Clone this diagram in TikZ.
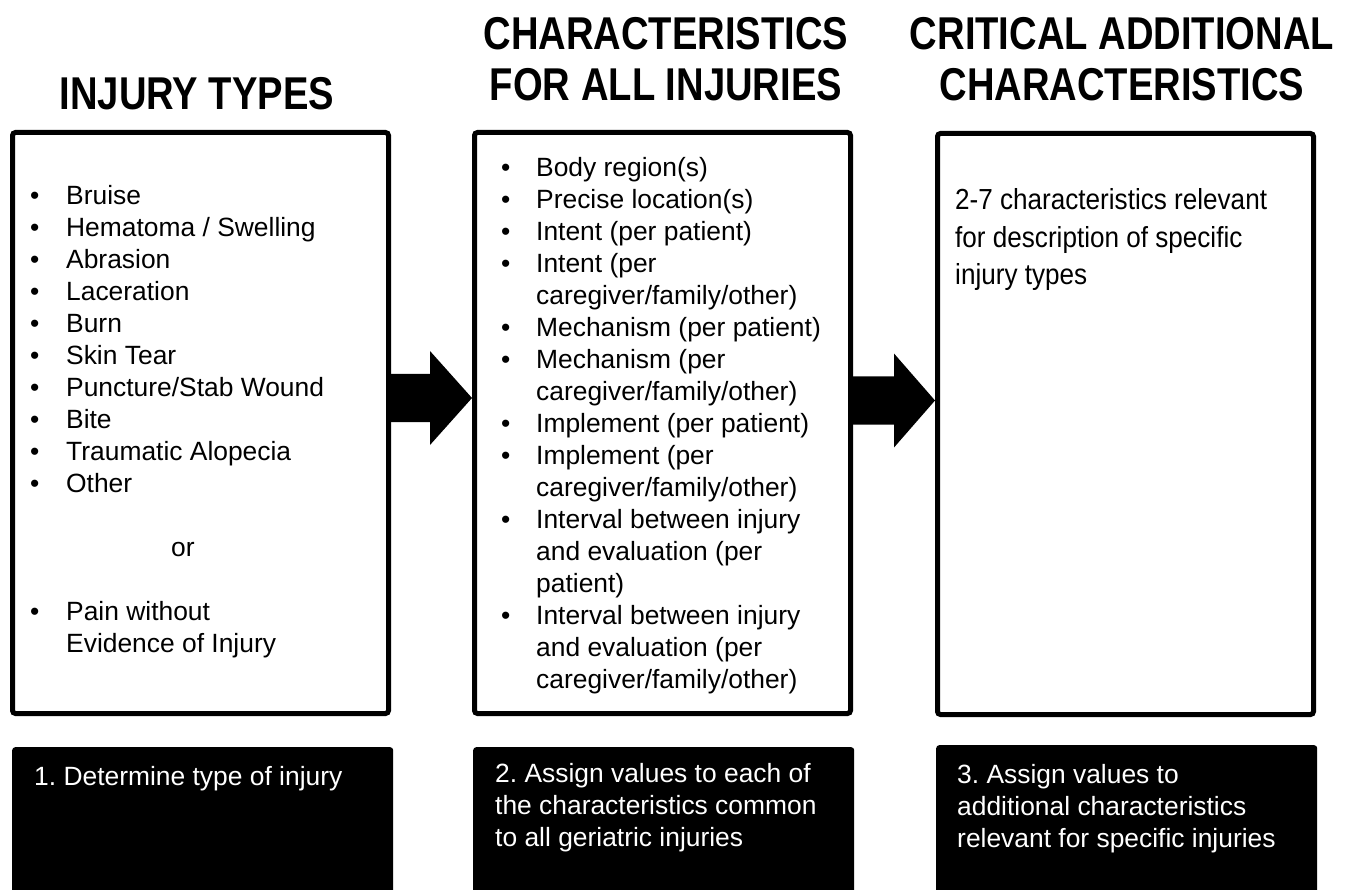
\documentclass[tikz,border=0pt]{standalone}
\usepackage{fontspec}
\setmainfont{Liberation Sans}
\newfontfamily\headfont{Liberation Sans}[FakeStretch=0.83]
\newfontfamily\narrowfont{Liberation Sans}[FakeStretch=0.9]
\usetikzlibrary{positioning, calc}
\frenchspacing

\tikzset{
  whitebox/.style={draw, line width=5pt, rounded corners=3pt, minimum width=376pt,
    minimum height=581pt, anchor=north west, inner sep=0pt},
  blackbox/.style={fill=black, rounded corners=3pt, minimum width=381pt,
    minimum height=160pt, anchor=north west, inner sep=0pt},
  headtext/.style={font=\headfont\bfseries\fontsize{46}{51}\selectfont, anchor=base, inner sep=0pt},
  listtext/.style={font=\fontsize{26.4}{32}\selectfont, anchor=base west, inner sep=0pt},
  steptext/.style={listtext, text=white},
}

\begin{document}
\begin{tikzpicture}[x=1pt, y=-1pt]
        \useasboundingbox (0,0) rectangle (1360,890);

        % headings
        \node[headtext] (h1) at (197,110) {INJURY TYPES};
        \node[headtext] (h2) at (666,50) {\begin{tabular}[t]{@{}c@{}}CHARACTERISTICS\\FOR ALL INJURIES\end{tabular}};
        \node[headtext] (h3) at (1122,50) {\begin{tabular}[t]{@{}c@{}}CRITICAL ADDITIONAL\\CHARACTERISTICS\end{tabular}};

        % the three boxes
        \node[whitebox] (b1) at (10,130) {};
        \node[whitebox] (b2) at (472,130) {};
        \node[whitebox] (b3) at (935,131) {};

        \node[listtext] (l1) at (30,205) {\begin{tabular}[t]{@{}p{36pt}@{}l@{}}
            \textbullet & Bruise\\
            \textbullet & Hematoma / Swelling\\
            \textbullet & Abrasion\\
            \textbullet & Laceration\\
            \textbullet & Burn\\
            \textbullet & Skin Tear\\
            \textbullet & Puncture/Stab Wound\\
            \textbullet & Bite\\
            \textbullet & Traumatic Alopecia\\
            \textbullet & Other\\
            & \\
            \multicolumn{2}{@{}l@{}}{\hspace*{141pt}or}\\
            & \\
            \textbullet & Pain without\\
            & Evidence of Injury
          \end{tabular}};

        \node[listtext] (l2) at (501,177) {\begin{tabular}[t]{@{}p{35pt}@{}l@{}}
            \textbullet & Body region(s)\\
            \textbullet & Precise location(s)\\
            \textbullet & Intent (per patient)\\
            \textbullet & Intent (per\\
            & caregiver/family/other)\\
            \textbullet & Mechanism (per patient)\\
            \textbullet & Mechanism (per\\
            & caregiver/family/other)\\
            \textbullet & Implement (per patient)\\
            \textbullet & Implement (per\\
            & caregiver/family/other)\\
            \textbullet & Interval between injury\\
            & and evaluation (per\\
            & patient)\\
            \textbullet & Interval between injury\\
            & and evaluation (per\\
            & caregiver/family/other)
          \end{tabular}};

        \node[listtext, font=\narrowfont\fontsize{29}{37.5}\selectfont] (l3) at (955,210)
          {\begin{tabular}[t]{@{}l@{}}2-7 characteristics relevant\\for description of specific\\injury types\end{tabular}};

        % arrows between the boxes
        \coordinate (ar1) at (0,398);
        \coordinate (ar2) at (0,400.5);
        \fill ($(b1.east |- ar1)+(-1,-24)$) -- ($(b2.west |- ar1)+(-42,-24)$) -- ($(b2.west |- ar1)+(-42,-47)$)
          -- (b2.west |- ar1) -- ($(b2.west |- ar1)+(-42,47)$) -- ($(b2.west |- ar1)+(-42,24)$)
          -- ($(b1.east |- ar1)+(-1,24)$) -- cycle;
        \fill ($(b2.east |- ar2)+(-1,-24)$) -- ($(b3.west |- ar2)+(-41,-24)$) -- ($(b3.west |- ar2)+(-41,-47)$)
          -- (b3.west |- ar2) -- ($(b3.west |- ar2)+(-41,47)$) -- ($(b3.west |- ar2)+(-41,24)$)
          -- ($(b2.east |- ar2)+(-1,24)$) -- cycle;

        % steps
        \node[blackbox] (s1) at (12,747) {};
        \node[blackbox] (s2) at (473,747) {};
        \node[blackbox] (s3) at (936,745) {};
        \node[steptext] (t1) at (34,785) {\begin{tabular}[t]{@{}l@{}}1. Determine type of injury\end{tabular}};
        \node[steptext] (t2) at (495,782) {\begin{tabular}[t]{@{}l@{}}2. Assign values to each of\\the characteristics common\\to all geriatric injuries\end{tabular}};
        \node[steptext] (t3) at (957,783) {\begin{tabular}[t]{@{}l@{}}3. Assign values to\\additional characteristics\\relevant for specific injuries\end{tabular}};
\end{tikzpicture}
\end{document}
